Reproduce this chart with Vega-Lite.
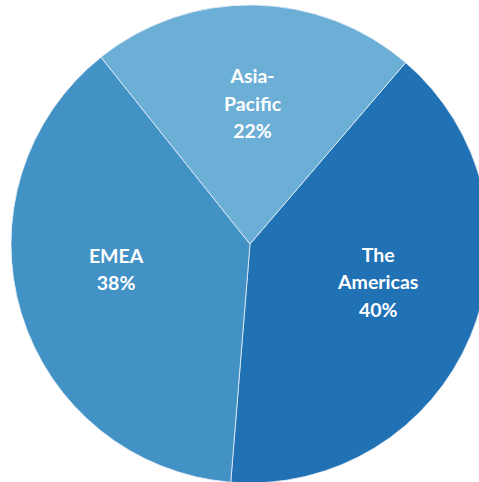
{
  "$schema": "https://vega.github.io/schema/vega-lite/v6.json",
  "width": 479,
  "height": 482,
  "padding": 0,
  "autosize": {"type": "none"},
  "background": "white",
  "view": {"stroke": null},
  "data": {
    "values": [
      {"region": "The Americas", "share": 40, "order": 1, "label": "The\nAmericas\n40%"},
      {"region": "EMEA", "share": 38, "order": 2, "label": "EMEA\n38%"},
      {"region": "Asia-Pacific", "share": 22, "order": 3, "label": "Asia-\nPacific\n22%"}
    ]
  },
  "encoding": {
    "theta": {"field": "share", "type": "quantitative", "stack": true, "scale": {"range": [0.709, 6.9922]}},
    "order": {"field": "order", "type": "quantitative"},
    "color": {
      "field": "region",
      "type": "nominal",
      "scale": {"domain": ["The Americas", "EMEA", "Asia-Pacific"], "range": ["#2171b5", "#4292c6", "#6baed6"]},
      "legend": null
    }
  },
  "layer": [
    {
      "mark": {"type": "arc", "outerRadius": 239, "stroke": "#e8f0f8", "strokeWidth": 0.8, "xOffset": 10.5, "yOffset": 3}
    },
    {
      "mark": {"type": "text", "radius": 140, "font": "Lato", "fontWeight": "bold", "fontSize": 19.5, "lineHeight": 27.5, "lineBreak": "\n", "align": "center", "baseline": "middle", "xOffset": 9.5, "yOffset": -39},
      "encoding": {
        "text": {"condition": {"test": "datum.region === 'The Americas'", "field": "label"}, "value": ""},
        "color": {"value": "white"}
      }
    },
    {
      "mark": {"type": "text", "radius": 140, "font": "Lato", "fontWeight": "bold", "fontSize": 19.5, "lineHeight": 27.5, "lineBreak": "\n", "align": "center", "baseline": "middle", "xOffset": 10.5, "yOffset": -25},
      "encoding": {
        "text": {"condition": {"test": "datum.region === 'EMEA'", "field": "label"}, "value": ""},
        "color": {"value": "white"}
      }
    },
    {
      "mark": {"type": "text", "radius": 140, "font": "Lato", "fontWeight": "bold", "fontSize": 19.5, "lineHeight": 27.5, "lineBreak": "\n", "align": "center", "baseline": "middle", "xOffset": 10.5, "yOffset": -24},
      "encoding": {
        "text": {"condition": {"test": "datum.region === 'Asia-Pacific'", "field": "label"}, "value": ""},
        "color": {"value": "white"}
      }
    }
  ]
}
